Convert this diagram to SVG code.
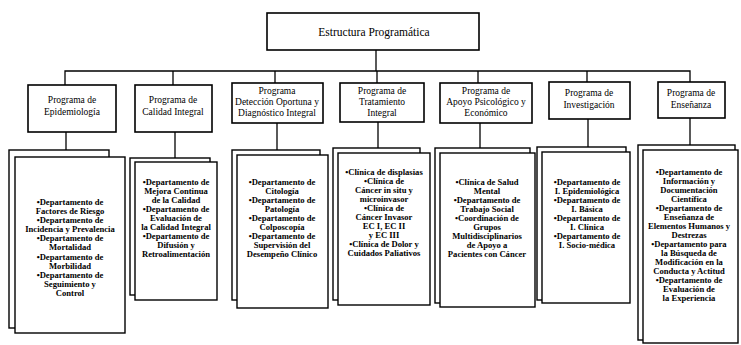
<svg xmlns="http://www.w3.org/2000/svg" width="741" height="345" viewBox="0 0 741 345">
  <style>
    .box { fill: #fff; stroke: #000; stroke-width: 1.6; }
    .sheet { fill: #fff; stroke: #000; stroke-width: 1.4; }
    .link { fill: none; stroke: #000; stroke-width: 1.3; }
    .title { font-family: "Liberation Serif", serif; font-size: 11.5px; text-anchor: middle; }
    .prog { font-family: "Liberation Serif", serif; font-size: 9.5px; text-anchor: middle; }
    .dept { font-family: "Liberation Serif", serif; font-size: 8.6px; font-weight: bold; text-anchor: middle; }
  </style>

  <!-- connectors -->
  <g id="connectors" class="link">
    <path d="M376 50 V71"/>
    <path d="M65 85 V71 H690 V82"/>
    <path d="M173 71 V85"/>
    <path d="M275 71 V83"/>
    <path d="M377 71 V83"/>
    <path d="M478 71 V83"/>
    <path d="M587 71 V82"/>
    <path d="M66 132 V150"/>
    <path d="M175 132 V158"/>
    <path d="M277 123 V150"/>
    <path d="M378 122 V148"/>
    <path d="M480 123 V148"/>
    <path d="M588 119 V147"/>
    <path d="M690 118 V145"/>
  </g>

  <!-- root -->
  <g id="root">
    <rect class="box" x="267" y="13" width="212" height="37"/>
    <text class="title" x="374" y="36">Estructura Programática</text>
  </g>

  <!-- programs -->
  <g id="prog-epidemiologia">
    <rect class="box" x="28" y="85" width="88" height="47"/>
    <text class="prog" x="72" y="103">Programa de</text>
    <text class="prog" x="72" y="115">Epidemiología</text>
  </g>
  <g id="prog-calidad">
    <rect class="box" x="135" y="85" width="77" height="47"/>
    <text class="prog" x="173" y="103">Programa de</text>
    <text class="prog" x="173" y="115">Calidad Integral</text>
  </g>
  <g id="prog-deteccion">
    <rect class="box" x="232" y="83" width="91" height="40"/>
    <text class="prog" x="277" y="94">Programa</text>
    <text class="prog" x="277" y="105">Detección Oportuna y</text>
    <text class="prog" x="277" y="116">Diagnóstico Integral</text>
  </g>
  <g id="prog-tratamiento">
    <rect class="box" x="340" y="83" width="84" height="39"/>
    <text class="prog" x="382" y="94">Programa de</text>
    <text class="prog" x="382" y="105">Tratamiento</text>
    <text class="prog" x="382" y="116">Integral</text>
  </g>
  <g id="prog-apoyo">
    <rect class="box" x="440" y="83" width="92" height="40"/>
    <text class="prog" x="486" y="94">Programa de</text>
    <text class="prog" x="486" y="105">Apoyo Psicológico y</text>
    <text class="prog" x="486" y="116">Económico</text>
  </g>
  <g id="prog-investigacion">
    <rect class="box" x="549" y="82" width="81" height="37"/>
    <text class="prog" x="589" y="96">Programa de</text>
    <text class="prog" x="589" y="108">Investigación</text>
  </g>
  <g id="prog-ensenanza">
    <rect class="box" x="658" y="82" width="67" height="36"/>
    <text class="prog" x="691" y="96">Programa de</text>
    <text class="prog" x="691" y="108">Enseñanza</text>
  </g>

  <!-- departments -->
  <g id="dept-epidemiologia">
    <rect class="sheet" x="9" y="150" width="100" height="178"/>
    <rect class="sheet" x="15" y="157" width="110" height="176"/>
    <text class="dept" x="70" y="204.5">•Departamento de</text>
    <text class="dept" x="70" y="214">Factores de Riesgo</text>
    <text class="dept" x="70" y="223">•Departamento de</text>
    <text class="dept" x="70" y="232">Incidencia y Prevalencia</text>
    <text class="dept" x="70" y="241">•Departamento de</text>
    <text class="dept" x="70" y="250">Mortalidad</text>
    <text class="dept" x="70" y="259.5">•Departamento de</text>
    <text class="dept" x="70" y="268.5">Morbilidad</text>
    <text class="dept" x="70" y="277.5">•Departamento de</text>
    <text class="dept" x="70" y="286.5">Seguimiento y</text>
    <text class="dept" x="70" y="296">Control</text>
  </g>
  <g id="dept-calidad">
    <rect class="sheet" x="130" y="158" width="80" height="137"/>
    <rect class="sheet" x="135" y="162" width="82" height="138"/>
    <text class="dept" x="176" y="185">•Departamento de</text>
    <text class="dept" x="176" y="194">Mejora Continua</text>
    <text class="dept" x="176" y="203">de la Calidad</text>
    <text class="dept" x="176" y="212">•Departamento de</text>
    <text class="dept" x="176" y="221">Evaluación de</text>
    <text class="dept" x="176" y="230">la Calidad Integral</text>
    <text class="dept" x="176" y="239">•Departamento de</text>
    <text class="dept" x="176" y="248">Difusión y</text>
    <text class="dept" x="176" y="257">Retroalimentación</text>
  </g>
  <g id="dept-deteccion">
    <rect class="sheet" x="232" y="150" width="88" height="150"/>
    <rect class="sheet" x="237" y="155" width="91" height="153"/>
    <text class="dept" x="282" y="185">•Departamento de</text>
    <text class="dept" x="282" y="194">Citología</text>
    <text class="dept" x="282" y="203">•Departamento de</text>
    <text class="dept" x="282" y="212">Patología</text>
    <text class="dept" x="282" y="221">•Departamento de</text>
    <text class="dept" x="282" y="230">Colposcopía</text>
    <text class="dept" x="282" y="239">•Departamento de</text>
    <text class="dept" x="282" y="248">Supervisión del</text>
    <text class="dept" x="282" y="257">Desempeño Clínico</text>
  </g>
  <g id="dept-tratamiento">
    <rect class="sheet" x="333" y="148" width="87" height="152"/>
    <rect class="sheet" x="338" y="153" width="92" height="152"/>
    <text class="dept" x="384" y="175">•Clínica de displasias</text>
    <text class="dept" x="384" y="184">•Clínica de</text>
    <text class="dept" x="384" y="193">Cáncer in situ y</text>
    <text class="dept" x="384" y="202">microinvasor</text>
    <text class="dept" x="384" y="211">•Clínica de</text>
    <text class="dept" x="384" y="220">Cáncer Invasor</text>
    <text class="dept" x="384" y="229">EC I, EC II</text>
    <text class="dept" x="384" y="238">y EC III</text>
    <text class="dept" x="384" y="247">•Clínica de Dolor y</text>
    <text class="dept" x="384" y="256">Cuidados Paliativos</text>
  </g>
  <g id="dept-apoyo">
    <rect class="sheet" x="435" y="148" width="95" height="155"/>
    <rect class="sheet" x="440" y="153" width="95" height="154"/>
    <text class="dept" x="487" y="185">•Clínica de Salud</text>
    <text class="dept" x="487" y="194">Mental</text>
    <text class="dept" x="487" y="203">•Departamento de</text>
    <text class="dept" x="487" y="212">Trabajo Social</text>
    <text class="dept" x="487" y="221">•Coordinación de</text>
    <text class="dept" x="487" y="230">Grupos</text>
    <text class="dept" x="487" y="239">Multidisciplinarios</text>
    <text class="dept" x="487" y="248">de Apoyo a</text>
    <text class="dept" x="487" y="257">Pacientes con Cáncer</text>
  </g>
  <g id="dept-investigacion">
    <rect class="sheet" x="537" y="147" width="89" height="153"/>
    <rect class="sheet" x="542" y="152" width="88" height="151"/>
    <text class="dept" x="587" y="185">•Departamento de</text>
    <text class="dept" x="587" y="194">I. Epidemiológica</text>
    <text class="dept" x="587" y="203">•Departamento de</text>
    <text class="dept" x="587" y="212">I. Básica</text>
    <text class="dept" x="587" y="221">•Departamento de</text>
    <text class="dept" x="587" y="230">I. Clínica</text>
    <text class="dept" x="587" y="239">•Departamento de</text>
    <text class="dept" x="587" y="248">I. Socio-médica</text>
  </g>
  <g id="dept-ensenanza">
    <rect class="sheet" x="638" y="145" width="97" height="195"/>
    <rect class="sheet" x="643" y="150" width="95" height="193"/>
    <text class="dept" x="689" y="175">•Departamento de</text>
    <text class="dept" x="689" y="184">Información y</text>
    <text class="dept" x="689" y="193">Documentación</text>
    <text class="dept" x="689" y="202">Científica</text>
    <text class="dept" x="689" y="211">•Departamento de</text>
    <text class="dept" x="689" y="220">Enseñanza de</text>
    <text class="dept" x="689" y="229">Elementos Humanos y</text>
    <text class="dept" x="689" y="238">Destrezas</text>
    <text class="dept" x="689" y="247">•Departamento para</text>
    <text class="dept" x="689" y="256">la Búsqueda de</text>
    <text class="dept" x="689" y="265">Modificación en la</text>
    <text class="dept" x="689" y="274">Conducta y Actitud</text>
    <text class="dept" x="689" y="283">•Departamento de</text>
    <text class="dept" x="689" y="292">Evaluación de</text>
    <text class="dept" x="689" y="301">la Experiencia</text>
  </g>
</svg>
